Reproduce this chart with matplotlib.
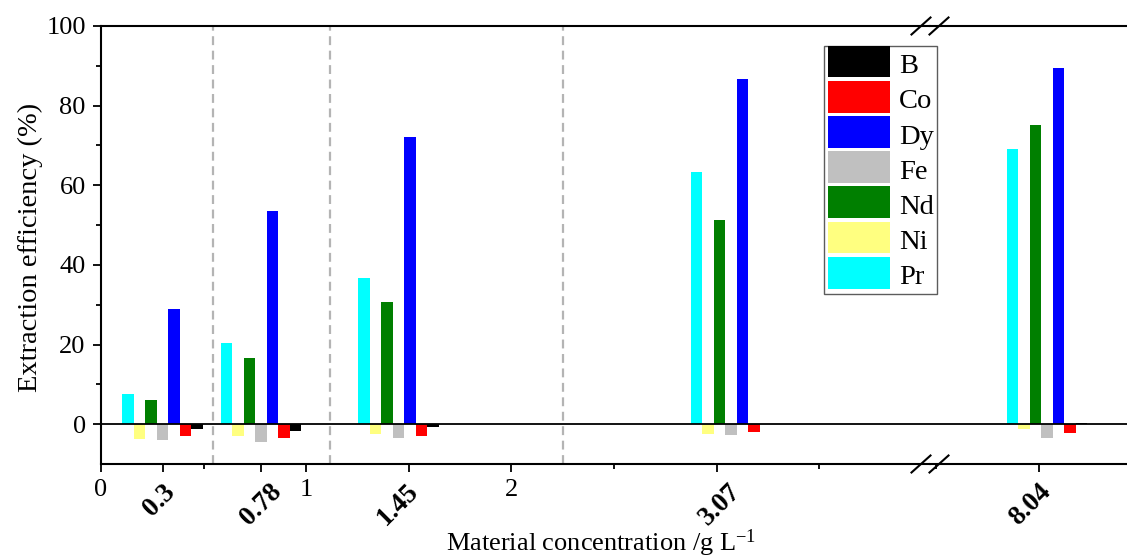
import matplotlib
matplotlib.use("Agg")
import matplotlib.pyplot as plt
from matplotlib.patches import Patch, Rectangle
from matplotlib.lines import Line2D
from matplotlib.legend_handler import HandlerPatch
import matplotlib.transforms as mtransforms
import numpy as np

# ---------------- data ----------------
concentrations = [0.3, 0.78, 1.45, 3.07, 8.04]
elements = ["Pr", "Ni", "Nd", "Fe", "Dy", "Co", "B"]   # drawing order left->right
Pr = [7.5, 20.5, 36.7, 63.3, 69.0]
Ni = [-3.8, -2.9, -2.5, -2.4, -1.3]
Nd = [6.1, 16.6, 30.7, 51.3, 75.2]
Fe = [-4.0, -4.4, -3.5, -2.8, -3.4]
Dy = [28.9, 53.6, 72.0, 86.6, 89.5]
Co = [-2.9, -3.4, -2.9, -2.0, -2.1]
B = [-1.2, -1.6, -0.7, 0.0, 0.3]
values = {"Pr": Pr, "Ni": Ni, "Nd": Nd, "Fe": Fe, "Dy": Dy, "Co": Co, "B": B}
legend_order = ["B", "Co", "Dy", "Fe", "Nd", "Ni", "Pr"]

left_ticks = [0, 0.3, 0.78, 1, 1.5, 2, 3]
left_ticklabels = ["0", "0.3", "0.78", "1", "1.45", "2", "3.07"]
right_ticks = [8.0]
right_ticklabels = ["8.04"]
separators = [0.546, 1.117, 2.25]

# ---------------- style ----------------
colors = {"B": "#000000", "Co": "#ff0000", "Dy": "#0000ff", "Fe": "#c0c0c0",
          "Nd": "#007f00", "Ni": "#ffff80", "Pr": "#00ffff"}
label_shift_px = {"0.3": -3, "0.78": 0, "1.45": -11, "3.07": 3, "8.04": -8}
plt.rcParams["font.family"] = ["Liberation Serif", "DejaVu Serif"]
plt.rcParams["mathtext.fontset"] = "custom"
plt.rcParams["mathtext.rm"] = "Liberation Serif"
plt.rcParams["mathtext.it"] = "Liberation Serif:italic"
plt.rcParams["mathtext.bf"] = "Liberation Serif:bold"

W, H = 1127, 557
fig = plt.figure(figsize=(W / 100, H / 100), dpi=100)

x0, xb, x1 = 101, 930, 1127
ytop, ybot = 26, 464
bottom = 1 - ybot / H
height = (ybot - ytop) / H
axL = fig.add_axes([x0 / W, bottom, (xb - x0) / W, height])
axR = fig.add_axes([xb / W, bottom, (x1 - xb) / W, height], sharey=axL)

axL.set_xlim(0, 4.04)
axR.set_xlim(7.47, 8.43)
axL.set_ylim(-10, 100)

bw = 0.0563
fs = 19
for ax in (axL, axR):
    for i, el in enumerate(elements):
        xs = np.array(concentrations) + (i - 3) * bw
        ax.bar(xs, values[el], width=bw, color=colors[el], linewidth=0, zorder=2)
    ax.axhline(0, color="black", lw=1.3, zorder=3)
    for s in separators:
        ax.axvline(s, color="#b4b4b4", lw=1.6, dashes=(4, 2.5), zorder=1)
    for sp in ax.spines.values():
        sp.set_linewidth(1.5)
    ax.spines["right"].set_visible(False)
    ax.tick_params(axis="both", which="major", direction="out", length=6, width=1.3,
                   labelsize=fs, pad=5)
    ax.tick_params(axis="both", which="minor", direction="out", length=3.6, width=1.3)

axR.spines["left"].set_visible(False)
axR.tick_params(axis="y", which="both", left=False, labelleft=False)

axL.set_yticks([0, 20, 40, 60, 80, 100])
axL.set_yticks([10, 30, 50, 70, 90], minor=True)

axL.set_xticks(left_ticks)
axL.set_xticklabels(left_ticklabels)
axL.set_xticks([0.5, 2.5, 3.5], minor=True)
axR.set_xticks(right_ticks)
axR.set_xticklabels(right_ticklabels)
axR.set_xticks([7.5], minor=True)

for ax in (axL, axR):
    for lab in ax.get_xticklabels():
        t = lab.get_text()
        if t in ("0", "1", "2"):
            continue
        lab.set_rotation(45)
        lab.set_fontweight("bold")
        lab.set_fontsize(19.5)
        lab.set_ha("center")
        lab.set_va("top")
        dx = label_shift_px.get(t, 0)
        lab.set_transform(lab.get_transform() +
                          mtransforms.ScaledTranslation(dx / 100, 0, fig.dpi_scale_trans))

# break marks (pixel positions converted to figure fraction)
for yb in (ytop, ybot):
    for xc in (921, 939):
        fig.add_artist(Line2D([(xc - 9.5) / W, (xc + 9.5) / W],
                              [1 - (yb + 8.5) / H, 1 - (yb - 8.5) / H],
                              color="black", lw=1.5, transform=fig.transFigure))

fig.text(30 / W, 1 - 247 / H, "Extraction efficiency (%)", rotation=90,
         ha="center", va="center", fontsize=20.5)
fig.text(601 / W, 1 - 543 / H, r"Material concentration /g L$^{\mathrm{-1}}$",
         ha="center", va="center", fontsize=fs)


class FullPatch(HandlerPatch):
    def create_artists(self, legend, orig_handle, xdescent, ydescent, width,
                       height, fontsize, trans):
        p = Rectangle((-xdescent, -ydescent), width, height + ydescent,
                      facecolor=orig_handle.get_facecolor(), edgecolor="none",
                      transform=trans)
        return [p]


lfs = 20.5
handles = [Patch(facecolor=colors[e], edgecolor="none") for e in legend_order]
leg = fig.legend(handles, legend_order, loc="upper left",
                 bbox_to_anchor=(824 / W, 1 - 46 / H), bbox_transform=fig.transFigure,
                 fontsize=lfs, frameon=True, fancybox=False, borderpad=0.13,
                 handlelength=2.2, handleheight=1.12, handletextpad=0.3,
                 labelspacing=0.2, borderaxespad=0,
                 handler_map={Patch: FullPatch()})
leg.get_frame().set_edgecolor("#333333")
leg.get_frame().set_linewidth(1.0)

fig.savefig("out.png", dpi=100)
